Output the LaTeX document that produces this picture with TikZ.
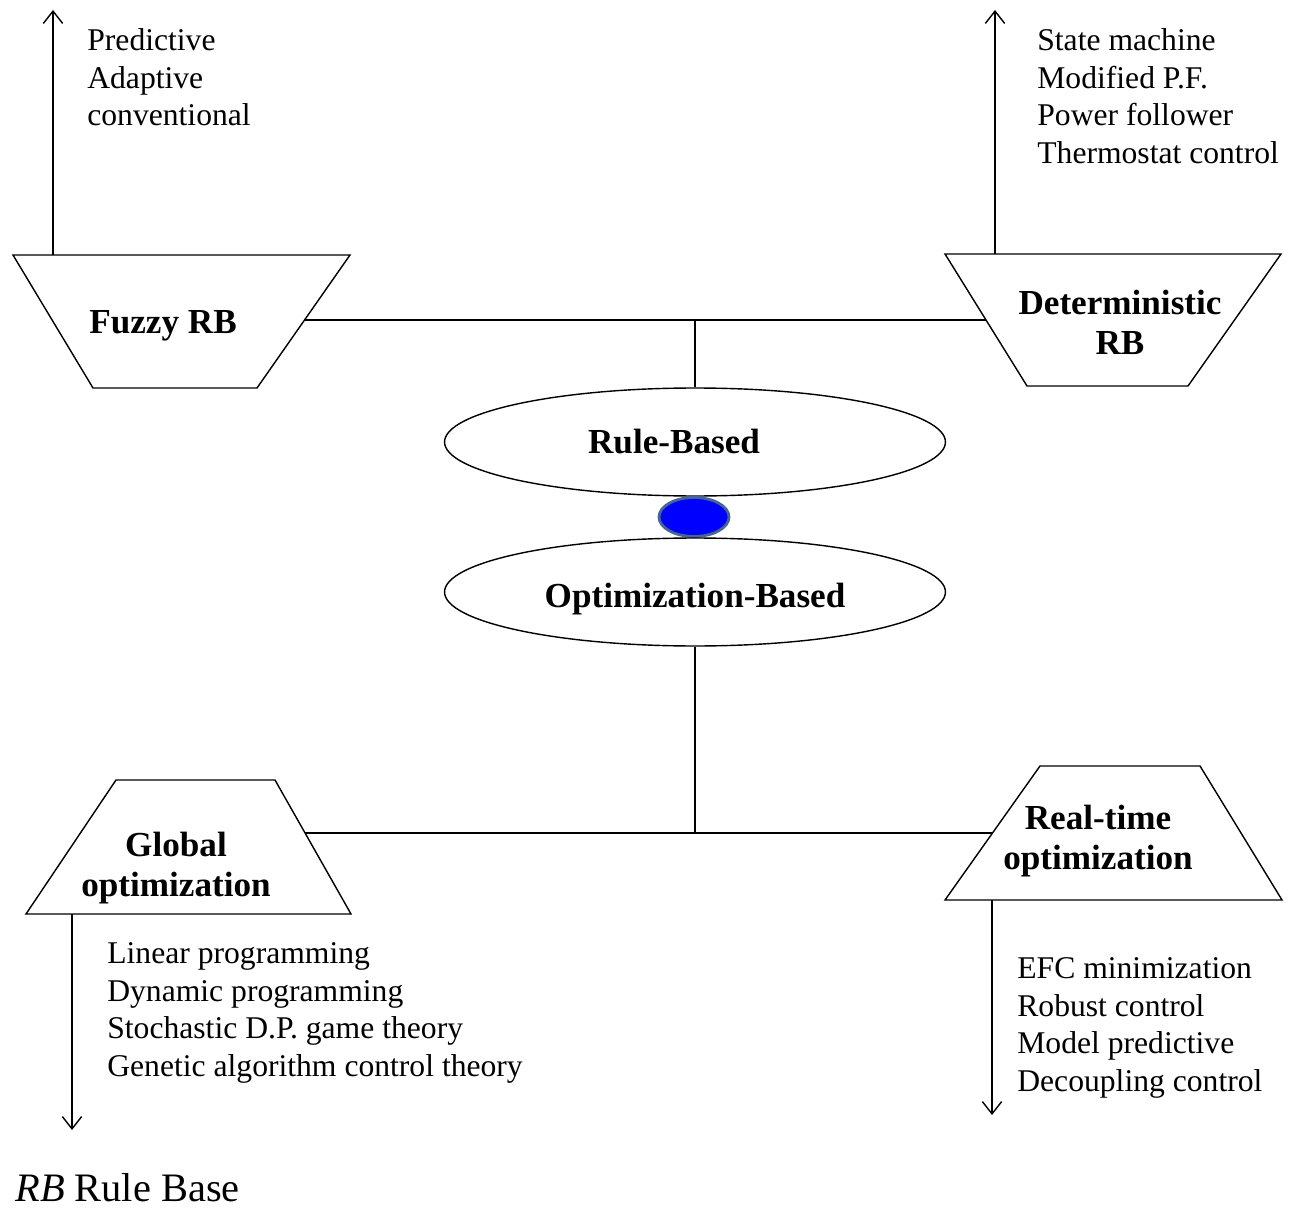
\documentclass[tikz,border=0pt]{standalone}
\usepackage{fontspec}
\setmainfont{Liberation Serif}
\usetikzlibrary{shapes.geometric,arrows.meta}

\tikzset{
  line/.style={line width=0.8pt},
  arr/.style={line width=0.8pt,-{Straight Barb[length=7pt,width=11pt]}},
  oval/.style={draw,line width=0.8pt,ellipse,minimum width=10.02cm,minimum height=2.16cm,
    font=\fontsize{20}{24}\selectfont\bfseries},
  bluedot/.style={ellipse,fill=blue,draw={rgb,255:red,70;green,100;blue,150},line width=1.6pt,
    minimum width=1.4cm,minimum height=0.78cm,inner sep=0pt},
  lbl/.style={align=center,font=\fontsize{20}{22.7}\selectfont\bfseries,inner sep=0pt},
  items/.style={align=left,anchor=north west,inner sep=0pt,font=\fontsize{18}{21.5}\selectfont},
}

\begin{document}
\begin{tikzpicture}[x=0.02cm,y=-0.02cm]
\useasboundingbox (0,0) rectangle (1291,1209);

%% rule based side
\draw[line] (13,255) -- (350,255) -- (257,388) -- (93,388) -- cycle;
\node[lbl] (fuzzy) at (163,326) {Fuzzy RB};
\draw[line] (945,254) -- (1281,254) -- (1188,386) -- (1027,386) -- cycle;
\node[lbl] (determ) at (1120,322) {Deterministic\\RB};

\coordinate (fuzzyE) at (304.5,320);
\coordinate (determW) at (986,320);
\coordinate (topJ) at (695,320);
\draw[line] (fuzzyE) -- (determW);

\node[oval] (rule) at (695,442) {\hspace*{-0.84cm}Rule-Based};
\node[bluedot] (dot) at (694,517) {};
\node[oval,text height=21.6pt,text depth=4.4pt] (opt) at (695,592) {Optimization-Based};
\draw[line] (topJ) -- (rule.north);

%% arrows up
\coordinate (fuzzyUp0) at (53,255);
\coordinate (fuzzyUp1) at (53,10);
\draw[arr] (fuzzyUp0) -- (fuzzyUp1);
\node[items] (fuzzyList) at (87,28) {Predictive\\Adaptive\\conventional};

\coordinate (determUp0) at (995,254);
\coordinate (determUp1) at (995,10);
\draw[arr] (determUp0) -- (determUp1);
\node[items] (determList) at (1037,28) {State machine\\Modified P.F.\\Power follower\\Thermostat control};

%% optimization side
\draw[line] (116,780) -- (275,780) -- (351,914) -- (26,914) -- cycle;
\node[lbl] (global) at (176,868) {Global\\optimization};
\draw[line] (1040,766) -- (1200,766) -- (1282,900) -- (945,900) -- cycle;
\node[lbl] (realtime) at (1098,841) {Real-time\\optimization};

\coordinate (globalE) at (305,833);
\coordinate (realtimeW) at (992.5,833);
\coordinate (botJ) at (695,833);
\draw[line] (globalE) -- (realtimeW);
\draw[line] (opt.south) -- (botJ);

%% arrows down
\coordinate (globalDn0) at (72,914);
\coordinate (globalDn1) at (72,1130);
\draw[arr] (globalDn0) -- (globalDn1);
\node[items] (globalList) at (107,942) {Linear programming\\Dynamic programming\\Stochastic D.P. game theory\\Genetic algorithm control theory};

\coordinate (realtimeDn0) at (992,900);
\coordinate (realtimeDn1) at (992,1115);
\draw[arr] (realtimeDn0) -- (realtimeDn1);
\node[items] (realtimeList) at (1017,957) {EFC minimization\\Robust control\\Model predictive\\Decoupling control};

%% legend
\node[anchor=base west,inner sep=0pt,font=\fontsize{23}{27}\selectfont] (legend) at (15,1201) {\textit{RB} Rule Base};

\end{tikzpicture}
\end{document}
